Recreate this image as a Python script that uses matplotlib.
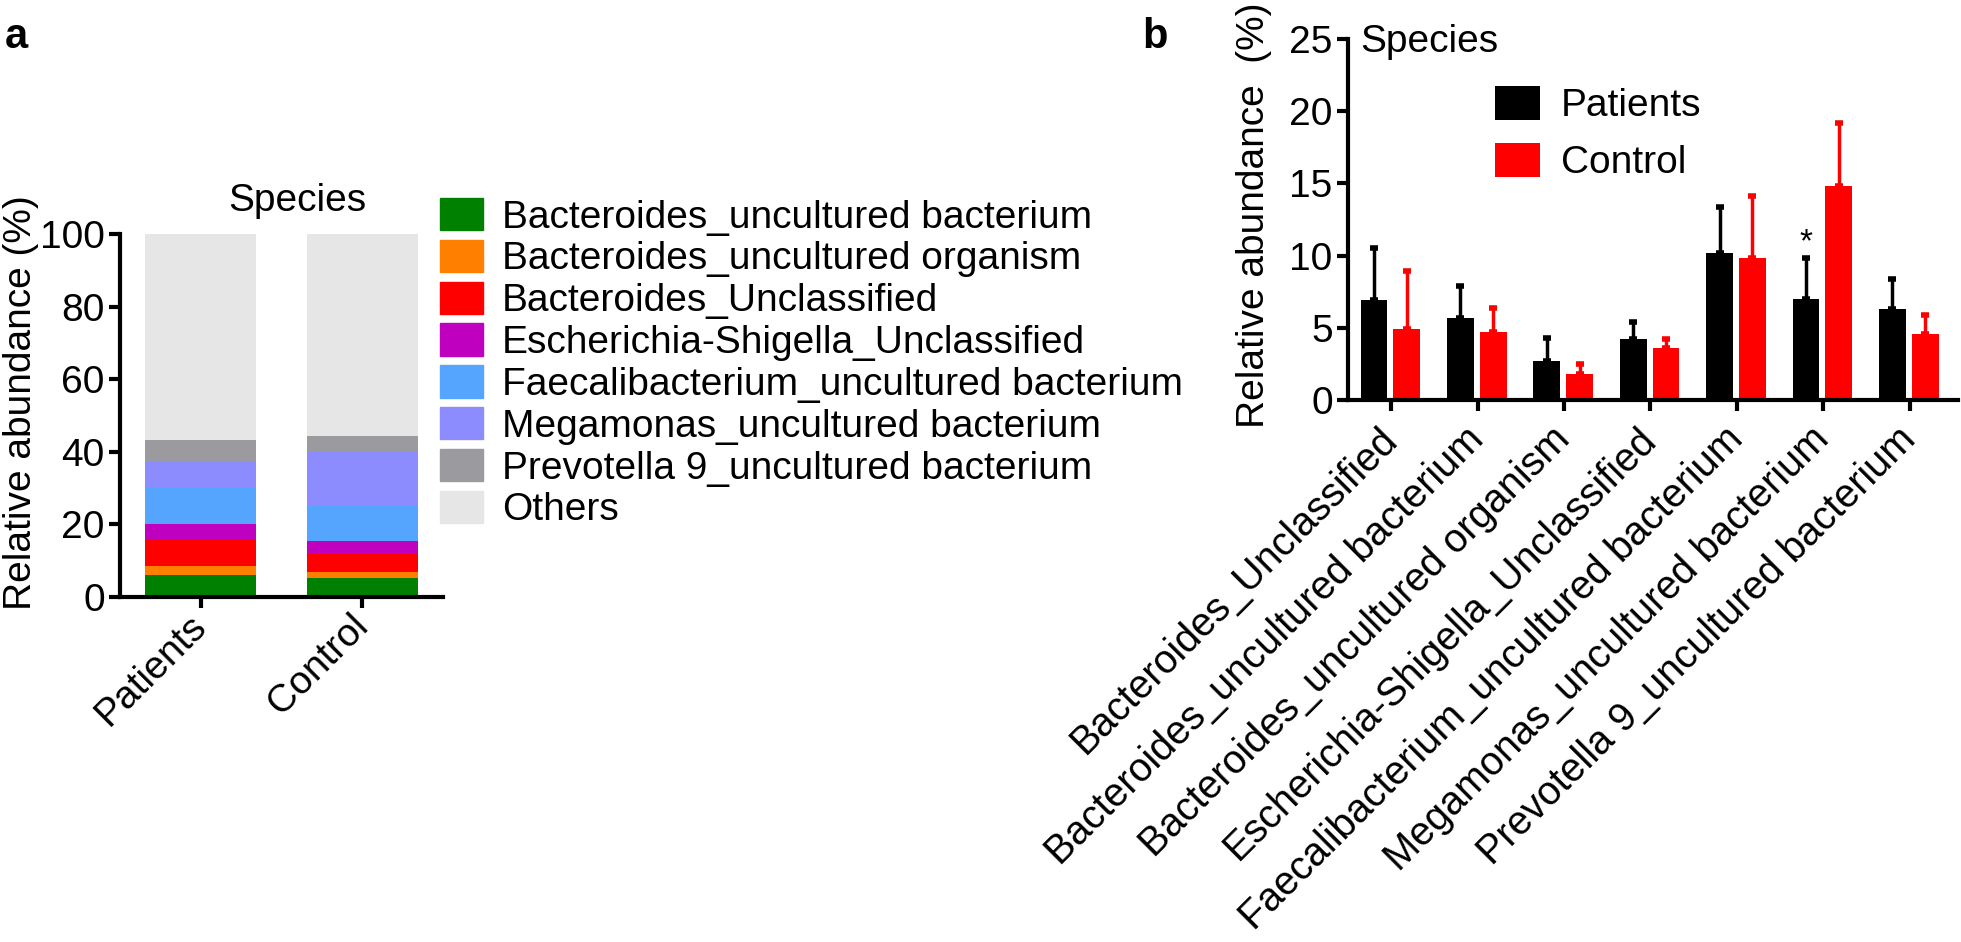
import numpy as np
import matplotlib
matplotlib.use('Agg')
import matplotlib.pyplot as plt
from matplotlib.patches import Patch

plt.rcParams['font.family'] = ['Liberation Sans', 'DejaVu Sans']

# panel a: stacked composition (%)
groups = ['Patients', 'Control']
taxa = ['Bacteroides_uncultured bacterium', 'Bacteroides_uncultured organism',
        'Bacteroides_Unclassified', 'Escherichia-Shigella_Unclassified',
        'Faecalibacterium_uncultured bacterium', 'Megamonas_uncultured bacterium',
        'Prevotella 9_uncultured bacterium', 'Others']
patients_stack = [6.1, 2.5, 7.2, 4.3, 9.9, 7.2, 6.1, 56.7]
control_stack = [5.1, 1.8, 4.9, 3.7, 9.6, 15.0, 4.3, 55.6]
taxa_colors = ['#008000', '#ff8000', '#ff0000', '#bf00bf', '#55a5ff', '#8c8cff', '#9b9b9f', '#e6e6e6']

# panel b: mean + upper error (%)
species_b = ['Bacteroides_Unclassified', 'Bacteroides_uncultured bacterium',
             'Bacteroides_uncultured organism', 'Escherichia-Shigella_Unclassified',
             'Faecalibacterium_uncultured bacterium', 'Megamonas_uncultured bacterium',
             'Prevotella 9_uncultured bacterium']
pat_mean = [6.9, 5.7, 2.7, 4.2, 10.2, 7.0, 6.3]
pat_top = [10.5, 7.9, 4.3, 5.4, 13.4, 9.8, 8.4]
ctl_mean = [4.9, 4.7, 1.8, 3.6, 9.8, 14.8, 4.6]
ctl_top = [8.9, 6.35, 2.5, 4.2, 14.1, 19.2, 5.9]

W, H = 1961, 942
fig = plt.figure(figsize=(W / 100, H / 100), dpi=100)
FS = 28


def px(x0, y0, x1, y1):
    return [x0 / W, 1 - y1 / H, (x1 - x0) / W, (y1 - y0) / H]


# ---------- panel a ----------
ax = fig.add_axes(px(120, 234, 443, 597))
xa = np.arange(len(groups))
bottoms = np.zeros(2)
for i, t in enumerate(taxa):
    vals = np.array([patients_stack[i], control_stack[i]])
    ax.bar(xa, vals, 0.69, bottom=bottoms, color=taxa_colors[i], label=t)
    bottoms += vals
ax.set_xlim(-0.5, 1.5)
ax.set_ylim(0, 100)
ax.set_yticks([0, 20, 40, 60, 80, 100])
ax.set_xticks(xa)
ax.set_xticklabels(groups, rotation=45, ha='right', va='center', rotation_mode='anchor')
ax.set_ylabel('Relative abundance (%)', fontsize=FS)
ax.yaxis.set_label_coords(-0.25, 0.535)
ax.text(0.55, 1.09, 'Species', transform=ax.transAxes, ha='center', va='center', fontsize=FS)
for s in ['top', 'right']:
    ax.spines[s].set_visible(False)
for s in ['left', 'bottom']:
    ax.spines[s].set_linewidth(3)
ax.tick_params(labelsize=FS, width=3, length=8, pad=3)
ax.tick_params(axis='x', pad=9)
handles = [Patch(color=c) for c in taxa_colors]
ax.legend(handles, taxa, loc='upper left', bbox_to_anchor=(440 / W, 1 - 198 / H),
          bbox_transform=fig.transFigure, frameon=False, fontsize=FS, borderpad=0,
          borderaxespad=0, handlelength=1.1, handleheight=0.9, handletextpad=0.5,
          labelspacing=0.11)
fig.text(5 / W, 1 - 37 / H, 'a', fontsize=30, fontweight='bold', va='center')

# ---------- panel b ----------
bx = fig.add_axes(px(1348, 39, 1958, 400))
xb = np.arange(len(species_b))
bw = 0.31
pat_err = np.array(pat_top) - np.array(pat_mean)
ctl_err = np.array(ctl_top) - np.array(ctl_mean)
bx.bar(xb - 0.2, pat_mean, bw, color='black', label='Patients')
bx.bar(xb + 0.18, ctl_mean, bw, color='#ff0000', label='Control')
bx.errorbar(xb - 0.2, pat_mean, yerr=[np.zeros(7), pat_err], fmt='none', ecolor='black',
            elinewidth=2.5, capsize=3, capthick=4)
bx.errorbar(xb + 0.18, ctl_mean, yerr=[np.zeros(7), ctl_err], fmt='none', ecolor='#ff0000',
            elinewidth=2.5, capsize=3, capthick=4)
bx.text(5 - 0.2, 9.8, '*', ha='center', va='bottom', fontsize=24)
bx.set_xlim(-0.5, 6.56)
bx.set_ylim(0, 25)
bx.set_yticks([0, 5, 10, 15, 20, 25])
bx.set_xticks(xb)
bx.set_xticklabels(species_b, rotation=45, ha='right', va='center', rotation_mode='anchor',
                   fontsize=28.5)
bx.set_ylabel('Relative abundance  (%)', fontsize=FS)
bx.yaxis.set_label_coords(-0.125, 0.513)
bx.text(1360 / W, 1 - 42 / H, 'Species', transform=fig.transFigure, ha='left', va='center', fontsize=FS)
for s in ['top', 'right']:
    bx.spines[s].set_visible(False)
for s in ['left', 'bottom']:
    bx.spines[s].set_linewidth(3)
bx.tick_params(axis='y', labelsize=FS, width=3, length=8, pad=3)
bx.tick_params(axis='x', width=3, length=8, pad=16)
bx.legend(loc='upper left', bbox_to_anchor=(1495 / W, 1 - 86 / H), bbox_transform=fig.transFigure,
          frameon=False, fontsize=FS, borderpad=0, borderaxespad=0, handlelength=1.15,
          handleheight=0.95, handletextpad=0.55, labelspacing=0.49)
fig.text(1142 / W, 1 - 37 / H, 'b', fontsize=30, fontweight='bold', va='center')

fig.savefig('out.png', dpi=100)
